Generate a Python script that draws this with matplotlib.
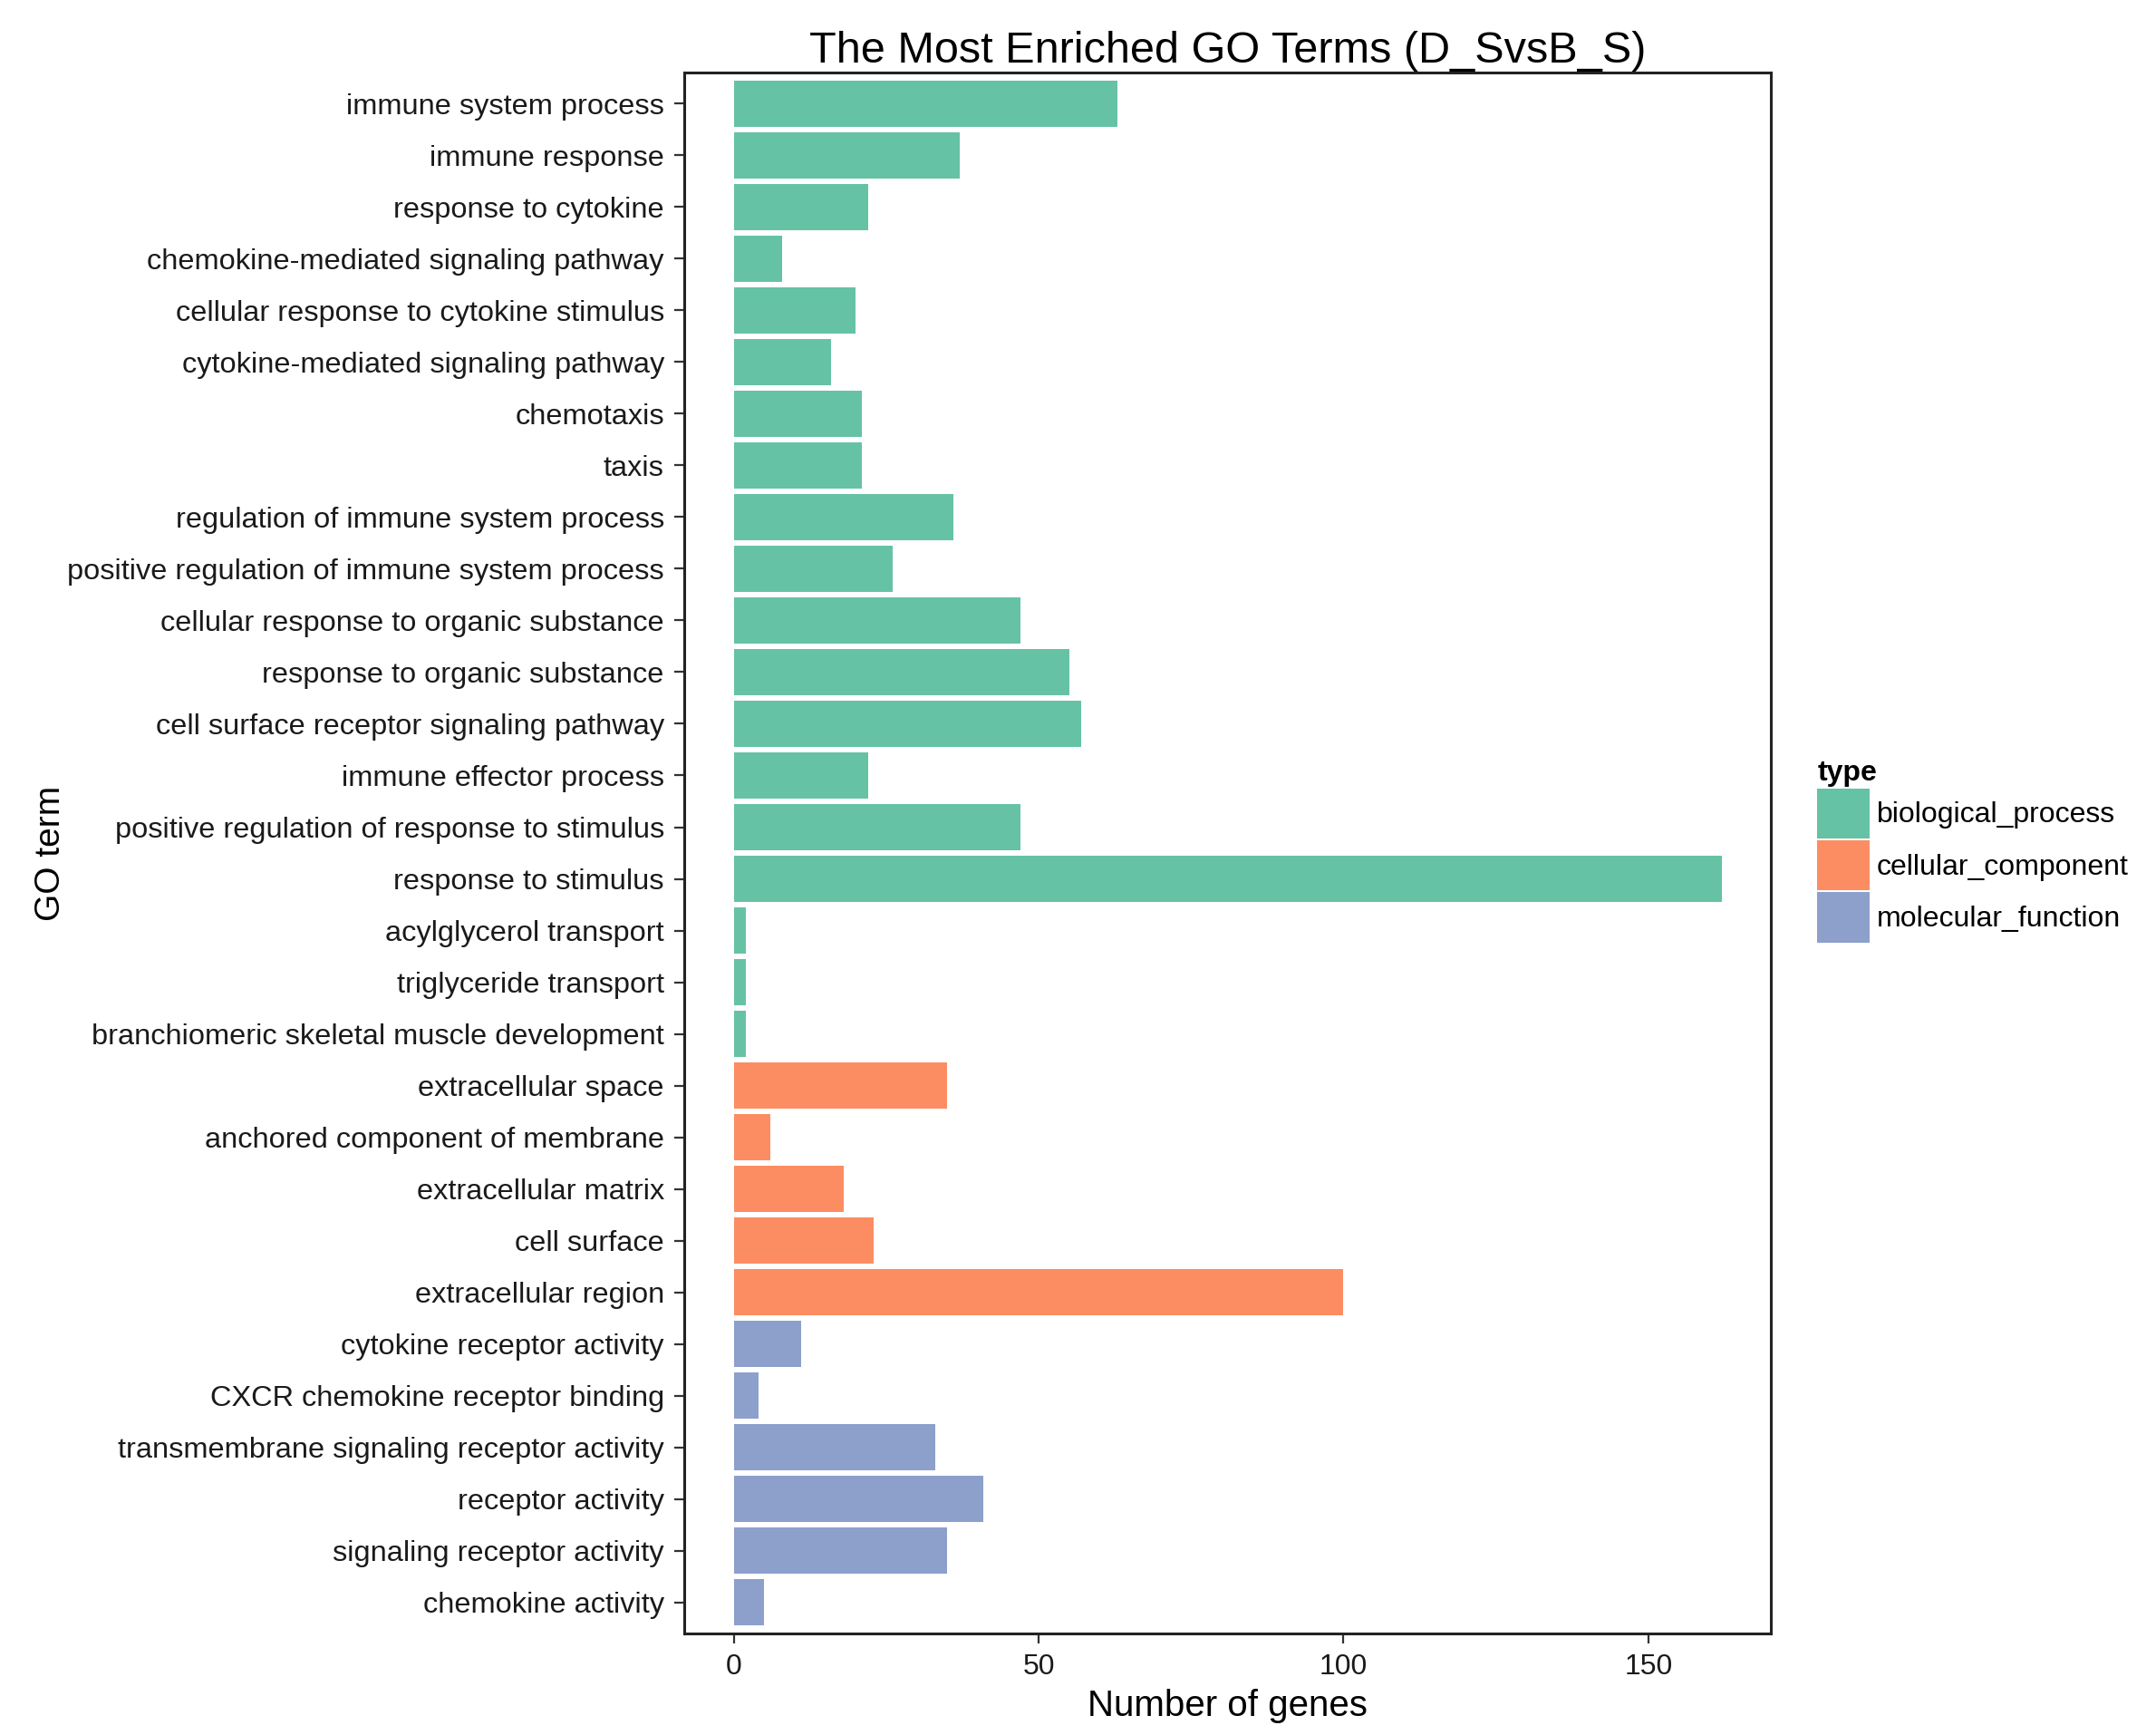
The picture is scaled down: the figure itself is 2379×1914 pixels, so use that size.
import matplotlib
matplotlib.use("Agg")
import matplotlib.pyplot as plt
from matplotlib.patches import Patch
import numpy as np

plt.rcParams['font.family'] = ['Liberation Sans', 'DejaVu Sans']

terms = [
    "immune system process", "immune response", "response to cytokine",
    "chemokine-mediated signaling pathway", "cellular response to cytokine stimulus",
    "cytokine-mediated signaling pathway", "chemotaxis", "taxis",
    "regulation of immune system process", "positive regulation of immune system process",
    "cellular response to organic substance", "response to organic substance",
    "cell surface receptor signaling pathway", "immune effector process",
    "positive regulation of response to stimulus", "response to stimulus",
    "acylglycerol transport", "triglyceride transport",
    "branchiomeric skeletal muscle development",
    "extracellular space", "anchored component of membrane", "extracellular matrix",
    "cell surface", "extracellular region",
    "cytokine receptor activity", "CXCR chemokine receptor binding",
    "transmembrane signaling receptor activity", "receptor activity",
    "signaling receptor activity", "chemokine activity",
]
counts = [63, 37, 22, 8, 20, 16, 21, 21, 36, 26, 47, 55, 57, 22, 47, 162, 2, 2, 2,
          35, 6, 18, 23, 100,
          11, 4, 33, 41, 35, 5]
types = (["biological_process"] * 19 + ["cellular_component"] * 5 +
         ["molecular_function"] * 6)
type_names = ["biological_process", "cellular_component", "molecular_function"]
type_colors = {"biological_process": "#66C2A5",
               "cellular_component": "#FC8D62",
               "molecular_function": "#8DA0CB"}

fig = plt.figure(figsize=(23.79, 19.14), dpi=100)
ax = fig.add_axes([0.3174, 0.0585, 0.504, 0.8997])

y = np.arange(len(terms))
ax.barh(y, counts, height=0.9, color=[type_colors[t] for t in types], linewidth=0)

ax.set_ylim(len(terms) - 0.4, -0.6)
xmax = max(counts)
ax.set_xlim(-0.05 * xmax, xmax * 1.05)
ax.set_yticks(y)
ax.set_yticklabels(terms, fontsize=23.4, color="#1a1a1a")
ax.set_xticks([0, 50, 100, 150])
ax.set_xticklabels(["0", "50", "100", "150"], fontsize=23, color="#1a1a1a")
ax.tick_params(axis="both", length=8, width=1.6, color="#333333", pad=8)

for s in ax.spines.values():
    s.set_linewidth(2.2)
    s.set_color("#222222")

ax.set_xlabel("Number of genes", fontsize=29, labelpad=6)
ax.set_ylabel("GO term", fontsize=28, labelpad=0)
ax.set_title("The Most Enriched GO Terms (D_SvsB_S)", fontsize=35, pad=8)

handles = [Patch(facecolor=type_colors[t], edgecolor="none") for t in type_names]
leg = fig.legend(handles, type_names, loc="center left",
                 bbox_to_anchor=(0.8430, 0.5095), frameon=False,
                 fontsize=23, title="type",
                 title_fontproperties={"weight": "bold", "size": 23},
                 handlelength=1.8, handleheight=2.3, handletextpad=0.25,
                 labelspacing=0.05, borderpad=0, borderaxespad=0,
                 alignment="left")

fig.savefig("out.png", dpi=100, facecolor="white")
